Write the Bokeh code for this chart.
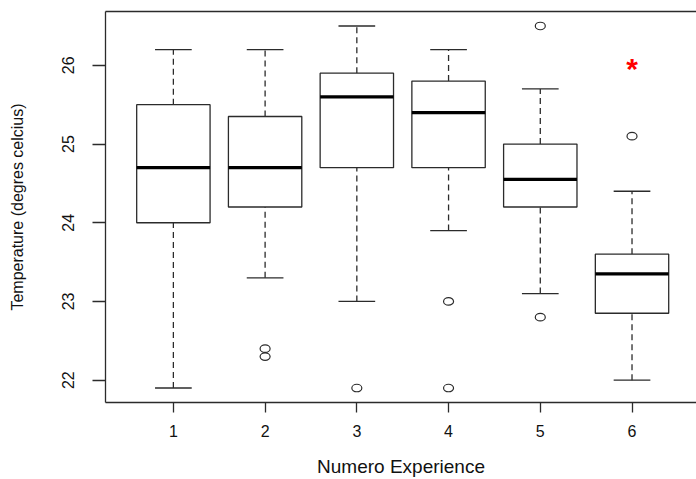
from bokeh.plotting import figure
from bokeh.models import Range1d, FixedTicker, LinearAxis, ColumnDataSource
from bokeh.core.properties import value
from bokeh.embed import file_html
from bokeh.resources import INLINE

# ---- data ----
groups = [1, 2, 3, 4, 5, 6]
tick_labels = ["1", "2", "3", "4", "5", "6"]
q1 = [24.0, 24.2, 24.7, 24.7, 24.2, 22.85]
medians = [24.7, 24.7, 25.6, 25.4, 24.55, 23.35]
q3 = [25.5, 25.35, 25.9, 25.8, 25.0, 23.6]
whisker_low = [21.9, 23.3, 23.0, 23.9, 23.1, 22.0]
whisker_high = [26.2, 26.2, 26.5, 26.2, 25.7, 24.4]
outlier_group = [2, 2, 3, 4, 4, 5, 5, 6]
outlier_value = [22.4, 22.3, 21.9, 23.0, 21.9, 26.5, 22.8, 25.1]
star_group = [6]
star_value = [26.0]

BOX_W = 0.8
CAP_W = 0.4

FONT = "Liberation Sans"
LINE = "#2b2b2b"

p = figure(width=696, height=479, output_backend="svg", toolbar_location=None,
           x_range=Range1d(0.26, 6.703), y_range=Range1d(21.716, 26.684),
           min_border_left=105, min_border_right=0, min_border_top=11,
           min_border_bottom=76)
p.outline_line_color = None
p.xgrid.visible = False
p.ygrid.visible = False
p.background_fill_color = "white"
p.border_fill_color = "white"

src = ColumnDataSource(dict(
    x=groups, q1=q1, med=medians, q3=q3, lo=whisker_low, hi=whisker_high,
    bx0=[g - BOX_W / 2 for g in groups], bx1=[g + BOX_W / 2 for g in groups],
    cx0=[g - CAP_W / 2 for g in groups], cx1=[g + CAP_W / 2 for g in groups],
))

# whiskers (dashed)
p.segment(x0="x", y0="q3", x1="x", y1="hi", source=src, line_color=LINE,
          line_width=1.3, line_dash="6 4")
p.segment(x0="x", y0="lo", x1="x", y1="q1", source=src, line_color=LINE,
          line_width=1.3, line_dash="6 4")
# caps
p.segment(x0="cx0", y0="hi", x1="cx1", y1="hi", source=src, line_color=LINE, line_width=1.3)
p.segment(x0="cx0", y0="lo", x1="cx1", y1="lo", source=src, line_color=LINE, line_width=1.3)
# boxes
p.vbar(x="x", width=BOX_W, bottom="q1", top="q3", source=src,
       fill_color="white", line_color=LINE, line_width=1.3)
# medians
p.segment(x0="bx0", y0="med", x1="bx1", y1="med", source=src,
          line_color="black", line_width=3.2)
# outliers
p.ellipse(x=outlier_group, y=outlier_value, width=10, height=7.5,
          width_units="screen", height_units="screen",
          fill_color=None, line_color=LINE, line_width=1.2)
# red star
p.text(x=star_group, y=star_value, text=["*"], text_color="red",
       text_font=value(FONT), text_font_size="30px", text_font_style="bold",
       text_align="center", text_baseline="middle", y_offset=3)

# axes
xa = p.xaxis[0]
xa.ticker = FixedTicker(ticks=groups)
xa.major_label_overrides = {g: t for g, t in zip(groups, tick_labels)}
xa.minor_tick_line_color = None
xa.major_tick_in = 0
xa.major_tick_out = 10
xa.major_label_standoff = 12
xa.axis_label = "Numero Experience"
xa.axis_label_text_font = FONT
xa.axis_label_text_font_size = "19px"
xa.axis_label_text_font_style = "normal"
xa.axis_label_text_color = "#111111"
xa.axis_label_standoff = 16
xa.major_label_text_font = FONT
xa.major_label_text_font_size = "16px"
xa.major_label_text_color = "#111111"
xa.axis_line_color = LINE
xa.axis_line_width = 1.3
xa.major_tick_line_color = LINE
xa.major_tick_line_width = 1.3

ya = p.yaxis[0]
ya.ticker = FixedTicker(ticks=[22, 23, 24, 25, 26])
ya.minor_tick_line_color = None
ya.major_tick_in = 0
ya.major_tick_out = 13
ya.major_label_orientation = "vertical"
ya.major_label_standoff = 18
ya.major_label_text_font = FONT
ya.major_label_text_font_size = "16px"
ya.major_label_text_color = "#111111"
ya.axis_label = "Temperature (degres celcius)"
ya.axis_label_text_font = FONT
ya.axis_label_text_font_size = "16px"
ya.axis_label_text_font_style = "normal"
ya.axis_label_text_color = "#111111"
ya.axis_label_standoff = 34
ya.axis_line_color = LINE
ya.axis_line_width = 1.3
ya.major_tick_line_color = LINE
ya.major_tick_line_width = 1.3

# top frame line
top = LinearAxis(ticker=FixedTicker(ticks=[]), major_label_text_font_size="0px",
                 major_tick_line_color=None, minor_tick_line_color=None,
                 axis_line_color=LINE, axis_line_width=1.3,
                 major_label_standoff=0)
p.add_layout(top, "above")

open("out.html", "w").write(file_html(p, INLINE))
